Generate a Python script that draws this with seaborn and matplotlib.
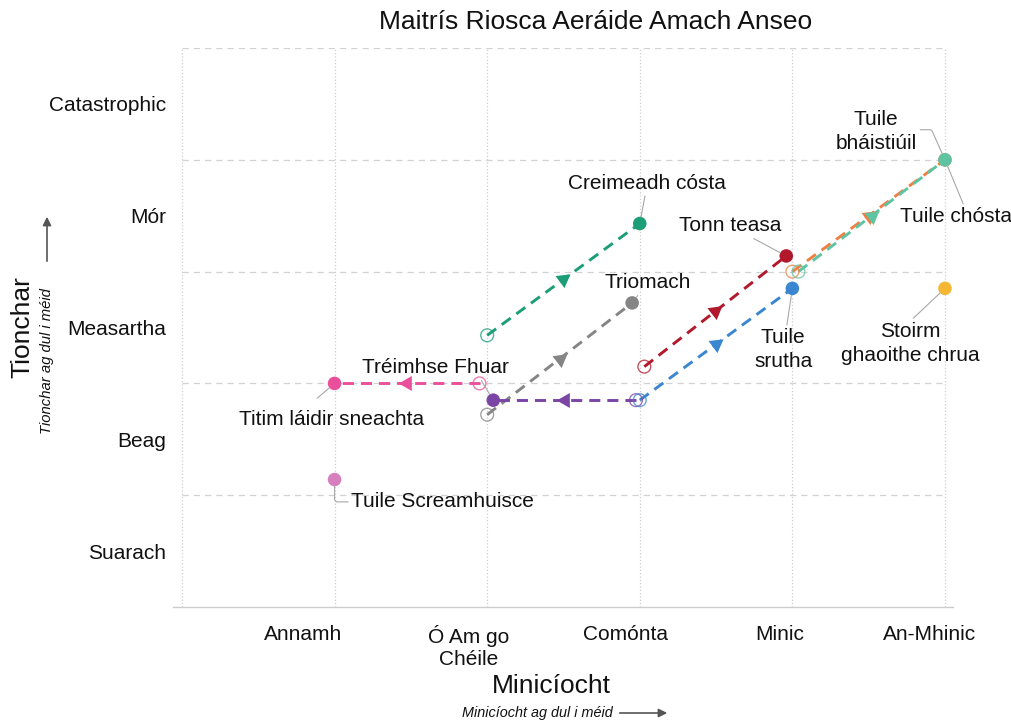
import matplotlib
matplotlib.use("Agg")
import matplotlib.pyplot as plt
import matplotlib.transforms as mtransforms
import seaborn as sns
import numpy as np
import pandas as pd

# ---------------- data ----------------
x_categories = ["", "Annamh", "Ó Am go\nChéile", "Comónta", "Minic", "An-Mhinic"]
y_categories = ["Suarach", "Beag", "Measartha", "Mór", "Catastrophic"]

# moving risks: present (open circle) -> future (filled circle)
events = ["Creimeadh cósta", "Triomach", "Tréimhse Fhuar", "Titim láidir sneachta",
          "Tonn teasa", "Tuile srutha", "Tuile bháistiúil", "Tuile chósta"]
start_x = [2.0, 2.0, 2.975, 1.95, 3.03, 3.0, 4.0, 4.04]
start_y = [2.93, 2.22, 2.35, 2.50, 2.65, 2.35, 3.50, 3.50]
end_x = [3.0, 2.95, 2.04, 1.0, 3.96, 4.0, 5.0, 5.0]
end_y = [3.93, 3.22, 2.35, 2.50, 3.64, 3.35, 4.50, 4.50]
event_colors = ["#1b9e77", "#858585", "#7b45a6", "#ea4f9b",
                "#b2182b", "#3b86d0", "#f07f45", "#5fc4a2"]

# static risks
static_events = ["Tuile Screamhuisce", "Stoirm ghaoithe chrua"]
static_x = [1.0, 5.0]
static_y = [1.64, 3.35]
static_colors = ["#d680bd", "#f3b733"]

# label texts
label_text = {
    "Creimeadh cósta": "Creimeadh cósta",
    "Triomach": "Triomach",
    "Tréimhse Fhuar": "Tréimhse Fhuar",
    "Titim láidir sneachta": "Titim láidir sneachta",
    "Tonn teasa": "Tonn teasa",
    "Tuile srutha": "Tuile\nsrutha",
    "Tuile bháistiúil": "Tuile\nbháistiúil",
    "Tuile chósta": "Tuile chósta",
    "Tuile Screamhuisce": "Tuile Screamhuisce",
    "Stoirm ghaoithe chrua": "Stoirm\nghaoithe chrua",
}

# ---------------- layout (label placement, leader styles) ----------------
label_pos = {
    "Creimeadh cósta": (3.05, 4.29),
    "Triomach": (3.05, 3.40),
    "Tréimhse Fhuar": (1.66, 2.64),
    "Titim láidir sneachta": (0.98, 2.18),
    "Tonn teasa": (3.59, 3.91),
    "Tuile srutha": (3.94, 2.80),
    "Tuile bháistiúil": (4.55, 4.75),
    "Tuile chósta": (5.07, 3.99),
    "Tuile Screamhuisce": (1.71, 1.44),
    "Stoirm ghaoithe chrua": (4.77, 2.86),
}
leader_relpos = {
    "Tuile bháistiúil": (1.0, 0.55),
    "Tuile chósta": (0.58, 1.0),
    "Stoirm ghaoithe chrua": (0.5, 1.0),
    "Tréimhse Fhuar": (0.8, 0.0),
    "Titim láidir sneachta": (0.35, 1.0),
    "Tuile Screamhuisce": (0.0, 0.5),
}
leader_conn = {
    "Tuile bháistiúil": "angle,angleA=0,angleB=114,rad=2",
    "Tuile Screamhuisce": "angle,angleA=0,angleB=90,rad=3",
}
xtick_shift_px = [0, -31, -19, -14, -13, -15]

# ---------------- figure ----------------
sns.set_theme(style="white")
plt.rcParams["font.family"] = ["Liberation Sans", "DejaVu Sans"]
TXT = "#111111"

W, H = 1012, 722
fig = plt.figure(figsize=(W / 100, H / 100), dpi=100)
ax_l, ax_r, ax_t, ax_b = 172.8, 952.6, 48, 607
ax = fig.add_axes([ax_l / W, 1 - ax_b / H, (ax_r - ax_l) / W, (ax_b - ax_t) / H])
ax.set_xlim(-0.06, 5.05)
ax.set_ylim(0.5, 5.5)

# grid
grid_y = np.arange(1.5, 6.0, 1.0)
ax.hlines(grid_y, 0, 5, colors="#d2d2d2", linestyles=(0, (5, 4)), lw=0.9, zorder=0)
ax.set_xticks(range(len(x_categories)))
ax.set_xticklabels(x_categories, fontsize=15, color=TXT)
ax.xaxis.grid(True, ls=":", color="#cfcfcf", lw=0.9)
ax.set_axisbelow(True)
ax.set_yticks(range(1, len(y_categories) + 1))
ax.set_yticklabels(y_categories, fontsize=15, color=TXT)
ax.set_yticks(grid_y, minor=True)
ax.tick_params(axis="y", which="major", length=0, pad=5)
ax.tick_params(axis="y", which="minor", length=4, color="#cccccc", width=0.9, direction="out")
ax.tick_params(axis="x", which="major", length=5, color="#cccccc", width=0.9, pad=8)
for s in ["top", "right", "left"]:
    ax.spines[s].set_visible(False)
ax.spines["bottom"].set_color("#cccccc")
ax.spines["bottom"].set_linewidth(1.0)
for lab, dx in zip(ax.get_xticklabels(), xtick_shift_px):
    lab.set_transform(lab.get_transform() +
                      mtransforms.ScaledTranslation(dx / 100, 0, fig.dpi_scale_trans))

# moving risks
for i, name in enumerate(events):
    c = event_colors[i]
    seg = pd.DataFrame({"x": [start_x[i], end_x[i]], "y": [start_y[i], end_y[i]]})
    sns.lineplot(data=seg, x="x", y="y", ax=ax, color=c, lw=2.1, sort=False,
                 estimator=None, linestyle=(0, (3.8, 2.4)), zorder=3)
    sns.scatterplot(x=[start_x[i]], y=[start_y[i]], ax=ax, s=85, facecolor="none",
                    edgecolor=c, linewidth=1.0, alpha=0.75, zorder=4)
    sns.scatterplot(x=[end_x[i]], y=[end_y[i]], ax=ax, s=95, color=c,
                    edgecolor="none", zorder=5)
    # direction triangle at the middle of the segment
    p0 = ax.transData.transform((start_x[i], start_y[i]))
    p1 = ax.transData.transform((end_x[i], end_y[i]))
    ang = np.degrees(np.arctan2(p1[1] - p0[1], p1[0] - p0[0]))
    mx, my = (start_x[i] + end_x[i]) / 2, (start_y[i] + end_y[i]) / 2
    ax.plot([mx], [my], marker=(3, 0, ang - 90), ms=12.5, color=c, mec="none", zorder=5)

# static risks
sns.scatterplot(x=static_x, y=static_y, hue=static_events, palette=static_colors,
                s=95, edgecolor="none", ax=ax, legend=False, zorder=5)

# labels with leader lines
anchor = {name: (end_x[i], end_y[i]) for i, name in enumerate(events)}
anchor.update({name: (static_x[i], static_y[i]) for i, name in enumerate(static_events)})
for name, (tx, ty) in label_pos.items():
    ap = dict(arrowstyle="-", color="#a8a8a8", lw=0.8, shrinkA=0, shrinkB=5)
    if name in leader_relpos:
        ap["relpos"] = leader_relpos[name]
    if name in leader_conn:
        ap["connectionstyle"] = leader_conn[name]
    if name == "Titim láidir sneachta":
        ap["shrinkA"] = 9
    ax.annotate(label_text[name], xy=anchor[name], xytext=(tx, ty),
                ha="center", va="center", fontsize=15, color=TXT, linespacing=1.35,
                arrowprops=ap, zorder=6)

ax.set_xlabel("")
ax.set_ylabel("")

# titles / axis labels
fig.text(596 / W, 1 - 22 / H, "Maitrís Riosca Aeráide Amach Anseo", ha="center",
         va="center", fontsize=19, color=TXT)
fig.text(22 / W, 1 - 327 / H, "Tionchar", rotation=90, ha="center", va="center",
         fontsize=19, color=TXT)
fig.text(47 / W, 1 - 361 / H, "Tionchar ag dul i méid", rotation=90, ha="center",
         va="center", fontsize=10.7, style="italic", color=TXT)
fig.text(551 / W, 1 - 686 / H, "Minicíocht", ha="center", va="center",
         fontsize=19, color=TXT)
fig.text(537 / W, 1 - 713 / H, "Minicíocht ag dul i méid", ha="center", va="center",
         fontsize=10.4, style="italic", color=TXT)
fig.add_artist(matplotlib.patches.FancyArrowPatch(
    (47 / W, 1 - 264 / H), (47 / W, 1 - 214 / H), transform=fig.transFigure,
    arrowstyle="-|>,head_length=5,head_width=2.5", color="#555555", lw=1.2))
fig.add_artist(matplotlib.patches.FancyArrowPatch(
    (617 / W, 1 - 713 / H), (670 / W, 1 - 713 / H), transform=fig.transFigure,
    arrowstyle="-|>,head_length=5,head_width=2.5", color="#555555", lw=1.2))

fig.savefig("out.png", dpi=100, facecolor="white")
